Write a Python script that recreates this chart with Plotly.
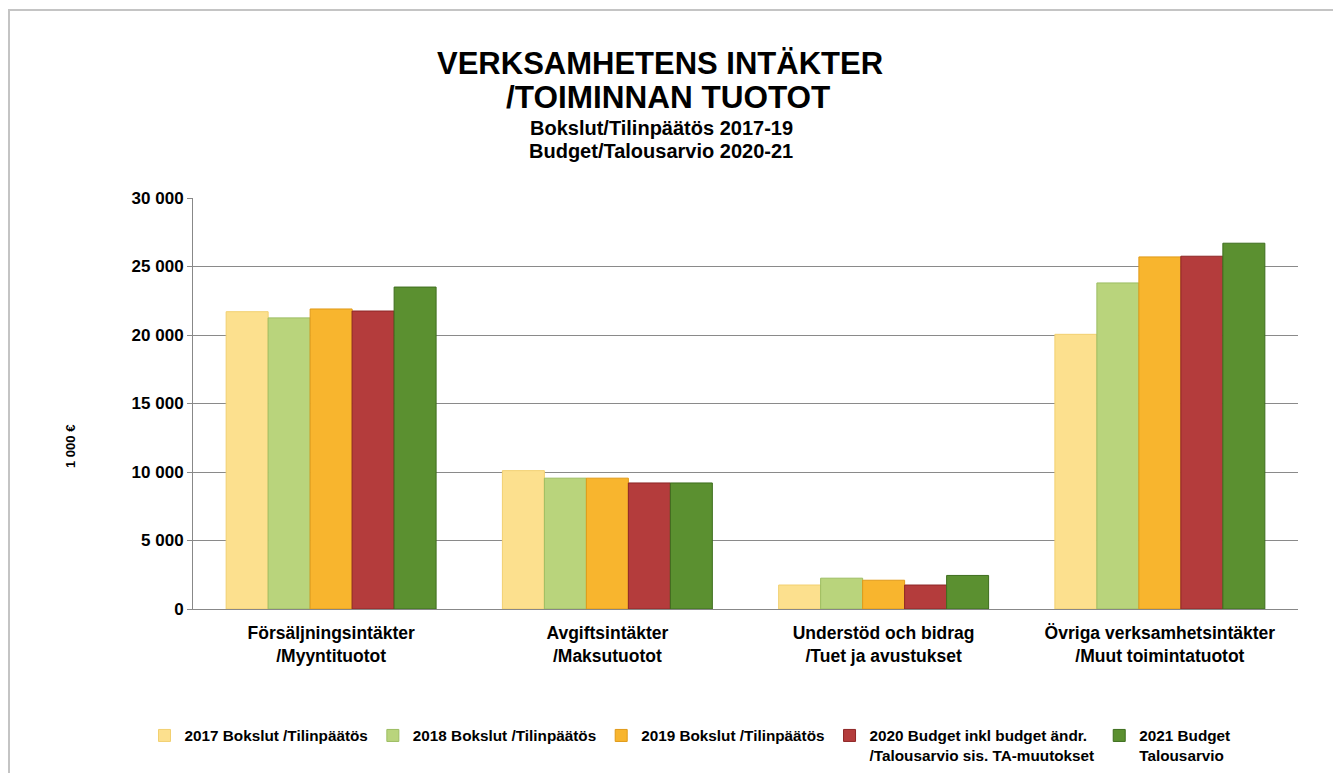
import plotly.graph_objects as go

categories = ["Försäljningsintäkter<br>/Myyntituotot", "Avgiftsintäkter<br>/Maksutuotot",
              "Understöd och bidrag<br>/Tuet ja avustukset", "Övriga verksamhetsintäkter<br>/Muut toimintatuotot"]
series_names = ["2017 Bokslut /Tilinpäätös", "2018 Bokslut /Tilinpäätös", "2019 Bokslut /Tilinpäätös",
                "2020 Budget inkl budget ändr.<br>/Talousarvio sis. TA-muutokset", "2021 Budget<br>Talousarvio"]
v2017 = [21700, 10100, 1750, 20050]
v2018 = [21250, 9550, 2250, 23800]
v2019 = [21900, 9550, 2100, 25700]
v2020 = [21750, 9200, 1750, 25750]
v2021 = [23500, 9200, 2450, 26700]
values = [v2017, v2018, v2019, v2020, v2021]
colors = ["#FCE08E", "#B9D47C", "#F8B52E", "#B43C3C", "#5B9030"]
lines = ["#F2D070", "#9CBD62", "#E09A18", "#8E2626", "#3E6E1E"]
yticks = [0, 5000, 10000, 15000, 20000, 25000, 30000]
yticklabels = ["0", "5 000", "10 000", "15 000", "20 000", "25 000", "30 000"]
y_title = "1 000 €"

FONT = "Liberation Sans, Arial, sans-serif"

# plot area in screen pixels (page has 8px body margin)
PL, PR, PT, PB = 193, 1298, 198, 609
def px(sx):
    return (sx - PL) / (PR - PL)
def py(sy):
    return (PB - sy) / (PB - PT)

fig = go.Figure()
for name, vals, c, lc in zip(series_names, values, colors, lines):
    fig.add_trace(go.Bar(x=categories, y=vals, name=name, marker=dict(color=c, line=dict(color=lc, width=1))))

fig.update_layout(
    width=1333, height=765,
    margin=dict(l=PL - 8, r=1341 - PR, t=PT - 8, b=773 - PB, autoexpand=False),
    paper_bgcolor="white", plot_bgcolor="white",
    barmode="group", bargap=0.24, bargroupgap=0.0,
    font=dict(family=FONT, size=13, color="black"),
    showlegend=True,
    legend=dict(orientation="h", x=px(690), xanchor="center", y=py(719), yanchor="top",
                font=dict(family=FONT, size=15.3, color="black", weight="bold"),
                itemwidth=30, traceorder="normal", valign="top"),
    xaxis=dict(showline=True, linecolor="#888888", linewidth=1, ticks="",
               ticklabelstandoff=8,
               tickfont=dict(family=FONT, size=17.5, weight="bold")),
    yaxis=dict(range=[0, 30000], tickvals=yticks, ticktext=yticklabels,
               showgrid=True, gridcolor="#8a8a8a", gridwidth=1,
               showline=True, linecolor="#888888", linewidth=1, ticks="outside", ticklen=5, tickcolor="#888888",
               tickfont=dict(family=FONT, size=17, weight="bold")),
    shapes=[dict(type="rect", xref="paper", yref="paper", x0=px(9), x1=px(1336), y0=py(900), y1=py(10),
                 line=dict(color="#C4C4C4", width=2), fillcolor="rgba(0,0,0,0)", layer="below")],
    annotations=[
        dict(text="<b>VERKSAMHETENS INTÄKTER</b>", xref="paper", yref="paper", x=px(660), y=py(63),
             xanchor="center", yanchor="middle", showarrow=False, font=dict(family=FONT, size=31, color="black")),
        dict(text="<b>/TOIMINNAN TUOTOT</b>", xref="paper", yref="paper", x=px(668), y=py(97),
             xanchor="center", yanchor="middle", showarrow=False, font=dict(family=FONT, size=31.5, color="black")),
        dict(text="<b>Bokslut/Tilinpäätös 2017-19</b>", xref="paper", yref="paper", x=px(661), y=py(128),
             xanchor="center", yanchor="middle", showarrow=False, font=dict(family=FONT, size=20, color="black")),
        dict(text="<b>Budget/Talousarvio 2020-21</b>", xref="paper", yref="paper", x=px(661), y=py(151),
             xanchor="center", yanchor="middle", showarrow=False, font=dict(family=FONT, size=20, color="black")),
        dict(text="<b>" + y_title + "</b>", xref="paper", yref="paper", x=px(70), y=py(447), textangle=-90,
             xanchor="center", yanchor="middle", showarrow=False, font=dict(family=FONT, size=13, color="black")),
    ],
)
fig.write_html("out.html")
